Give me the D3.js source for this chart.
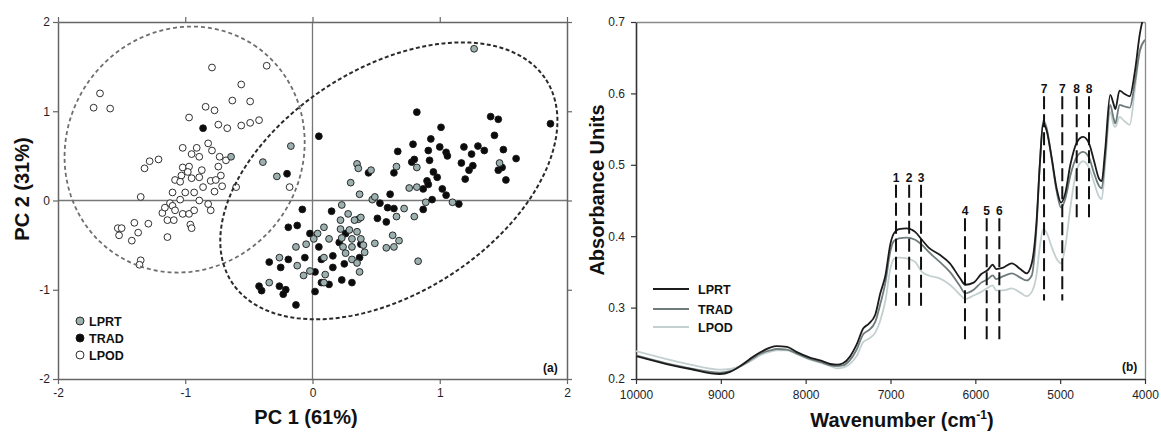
<!DOCTYPE html>
<html>
<head>
<meta charset="utf-8">
<script src="https://cdn.jsdelivr.net/npm/d3@7"></script>
<style>
body { margin: 0; background: #fff; }
svg { display: block; font-family: "Liberation Sans", Arial, sans-serif; }
</style>
</head>
<body>
<svg id="chart" width="1161" height="433"></svg>
<script>
// ---- panel (a): PCA scores, [PC1, PC2]
const lprtScores = [[1.27,1.70],[-0.64,0.49],[-0.17,0.61],[-0.39,0.43],[-0.28,0.27],[0.35,0.41],[0.36,0.36],[0.46,0.34],[0.30,0.20],[0.37,0.07],[0.47,0.01],[0.49,0.04],[0.66,0.38],[0.82,0.37],[0.76,0.14],[0.82,0.15],[0.72,-0.09],[0.80,-0.18],[0.66,-0.18],[0.89,-0.02],[0.23,-0.05],[0.28,-0.15],[0.36,-0.21],[0.38,-0.19],[0.22,-0.22],[0.09,-0.30],[0.04,-0.37],[0.22,-0.32],[0.29,-0.33],[0.35,-0.35],[0.13,-0.43],[0.01,-0.43],[-0.05,-0.49],[-0.13,-0.52],[0.23,-0.42],[0.31,-0.43],[0.38,-0.43],[0.24,-0.52],[0.31,-0.52],[0.41,-0.58],[0.49,-0.48],[0.63,-0.39],[0.68,-0.45],[0.58,-0.53],[0.64,-0.52],[0.09,-0.64],[0.31,-0.66],[0.37,-0.80],[-0.02,-0.79],[-0.07,-0.84],[-0.12,-0.73],[-0.26,-0.64],[0.10,-0.83],[-0.34,-0.92],[0.83,-0.68],[0.26,-0.59],[0.09,-0.92],[1.47,0.42],[1.10,-0.02],[0.40,-0.50],[0.33,-0.22],[0.35,-0.70]];
const tradScores = [[-0.86,0.81],[-0.20,0.30],[-0.08,-0.10],[0.05,0.72],[0.15,-0.12],[-0.19,-0.30],[-0.12,-0.28],[-0.02,-0.37],[-0.34,-0.69],[-0.25,-0.75],[-0.19,-0.66],[-0.06,-0.64],[-0.42,-0.96],[-0.40,-1.01],[-0.26,-0.96],[-0.21,-1.00],[-0.23,-1.05],[-0.13,-1.17],[0.02,-1.02],[0.02,-0.80],[0.07,-0.92],[0.13,-0.94],[0.23,-0.89],[0.31,-0.92],[0.16,-0.75],[0.16,-0.62],[0.25,-0.71],[0.05,-0.52],[0.21,-0.47],[0.26,-0.37],[0.38,-0.49],[0.37,-0.64],[0.07,-0.66],[0.51,-0.20],[0.58,-0.24],[0.59,-0.08],[0.64,-0.09],[0.53,-0.03],[0.61,0.07],[0.44,0.31],[0.64,0.31],[0.67,0.55],[0.79,0.63],[0.93,0.69],[1.01,0.82],[0.78,0.43],[0.91,0.56],[0.92,0.45],[0.95,0.32],[0.90,0.22],[0.87,0.13],[1.02,0.13],[0.94,0.01],[0.87,-0.10],[0.98,0.26],[0.82,0.99],[1.40,0.94],[1.46,0.91],[1.87,0.86],[1.43,0.73],[1.00,0.60],[1.05,0.54],[1.06,0.50],[1.19,0.60],[1.30,0.61],[1.35,0.56],[1.25,0.52],[1.50,0.57],[1.17,0.42],[1.26,0.39],[1.23,0.34],[1.60,0.47],[1.46,0.34],[1.49,0.37],[1.52,0.23],[1.20,0.24],[0.91,0.18],[1.05,0.06],[1.15,-0.04],[0.80,0.46]];
const lpodScores = [[-0.79,1.49],[-0.36,1.51],[-0.56,1.30],[-1.67,1.20],[-1.72,1.04],[-1.59,1.03],[-0.63,1.12],[-0.49,1.11],[-0.84,1.05],[-0.77,1.01],[-0.97,0.93],[-0.74,0.85],[-0.67,0.81],[-0.56,0.84],[-0.49,0.87],[-0.42,0.90],[-0.82,0.64],[-1.02,0.59],[-0.91,0.59],[-0.95,0.52],[-0.79,0.56],[-0.89,0.49],[-0.73,0.49],[-0.68,0.45],[-1.21,0.46],[-1.28,0.44],[-1.32,0.36],[-1.02,0.37],[-0.97,0.38],[-0.98,0.32],[-0.87,0.34],[-0.74,0.38],[-1.03,0.28],[-1.08,0.23],[-1.04,0.21],[-0.95,0.25],[-0.89,0.26],[-0.80,0.22],[-0.72,0.28],[-0.76,0.23],[-0.86,0.15],[-0.71,0.16],[-0.77,0.10],[-0.93,0.09],[-1.00,0.09],[-1.10,0.09],[-1.04,0.01],[-0.89,0.00],[-1.35,0.04],[-1.12,-0.03],[-1.10,-0.06],[-0.82,-0.04],[-0.80,-0.11],[-1.18,-0.14],[-1.08,-0.11],[-1.02,-0.15],[-0.97,-0.15],[-0.93,-0.11],[-1.14,-0.22],[-1.09,-0.22],[-1.40,-0.25],[-1.29,-0.26],[-1.53,-0.31],[-1.50,-0.31],[-1.52,-0.39],[-1.37,-0.36],[-1.42,-0.45],[-0.96,-0.27],[-0.95,-0.31],[-1.14,-0.41],[-1.35,-0.67],[-1.36,-0.72],[-0.60,0.15],[-0.18,0.15],[-1.16,-0.08]];
const pcaTicks = [-2, -1, 0, 1, 2];
const groups = ["LPRT", "TRAD", "LPOD"];
// group ellipses: centre and two half-axis vectors (score units)
const ellipses = [
  { cx: -1.005, cy: 0.571, ux: 0.544, uy: 1.171, vx: 0.771, vy: -0.727, dark: false },
  { cx: 0.60, cy: 0.22, ux: 1.236, uy: 1.132, vx: 0.477, vy: -1.061, dark: true }
];

// ---- panel (b): mean spectra
const wavenumbers = [10000,9640,9360,9010,8890,8750,8620,8540,8420,8340,8220,8110,7950,7830,7710,7630,7560,7480,7400,7320,7260,7180,7120,7060,7000,6960,6900,6810,6710,6630,6550,6420,6300,6180,6120,6020,5930,5850,5795,5755,5670,5570,5470,5395,5335,5280,5240,5200,5160,5100,5040,4990,4940,4880,4800,4730,4660,4600,4540,4510,4470,4410,4370,4350,4300,4250,4180,4120,4060,4000];
const lprtSpec = [0.232,0.221,0.214,0.207,0.210,0.220,0.231,0.237,0.244,0.246,0.245,0.238,0.230,0.226,0.221,0.220,0.222,0.231,0.248,0.271,0.277,0.290,0.320,0.345,0.390,0.404,0.410,0.411,0.406,0.395,0.384,0.374,0.362,0.341,0.332,0.335,0.347,0.353,0.360,0.354,0.356,0.362,0.354,0.348,0.362,0.418,0.500,0.558,0.548,0.510,0.466,0.447,0.460,0.500,0.532,0.539,0.530,0.505,0.480,0.477,0.520,0.598,0.585,0.578,0.604,0.600,0.596,0.630,0.684,0.715];
const tradSpec = [0.233,0.222,0.215,0.209,0.211,0.219,0.229,0.235,0.240,0.242,0.241,0.236,0.228,0.224,0.219,0.218,0.219,0.226,0.241,0.263,0.268,0.280,0.305,0.335,0.380,0.393,0.397,0.398,0.395,0.388,0.378,0.364,0.350,0.330,0.320,0.325,0.335,0.340,0.345,0.340,0.344,0.348,0.342,0.338,0.345,0.410,0.500,0.562,0.552,0.508,0.462,0.440,0.452,0.485,0.512,0.518,0.510,0.488,0.470,0.467,0.510,0.584,0.565,0.558,0.584,0.582,0.580,0.615,0.660,0.675];
const lpodSpec = [0.239,0.228,0.220,0.213,0.214,0.219,0.227,0.233,0.238,0.240,0.240,0.235,0.227,0.223,0.218,0.215,0.216,0.221,0.232,0.252,0.256,0.265,0.282,0.310,0.355,0.368,0.370,0.369,0.364,0.350,0.345,0.341,0.332,0.318,0.312,0.317,0.322,0.328,0.331,0.324,0.324,0.327,0.321,0.316,0.322,0.345,0.385,0.410,0.405,0.385,0.368,0.362,0.385,0.440,0.495,0.505,0.496,0.475,0.455,0.452,0.500,0.574,0.556,0.553,0.567,0.562,0.556,0.605,0.660,0.675];
const wnTicks = [10000, 9000, 8000, 7000, 6000, 5000, 4000];
const absTicks = [0.2, 0.3, 0.4, 0.5, 0.6, 0.7];
// assigned bands: label, wavenumber, dashed marker from top to bottom (absorbance)
const bands = [
  { label: "1", wn: 6935, top: 0.472, bot: 0.30 },
  { label: "2", wn: 6780, top: 0.472, bot: 0.30 },
  { label: "3", wn: 6640, top: 0.472, bot: 0.30 },
  { label: "4", wn: 6122, top: 0.425, bot: 0.25 },
  { label: "5", wn: 5866, top: 0.425, bot: 0.25 },
  { label: "6", wn: 5717, top: 0.425, bot: 0.25 },
  { label: "7", wn: 5190, top: 0.596, bot: 0.31 },
  { label: "7", wn: 4975, top: 0.596, bot: 0.31 },
  { label: "8", wn: 4805, top: 0.596, bot: 0.425 },
  { label: "8", wn: 4660, top: 0.596, bot: 0.425 }
];

const svg = d3.select("#chart");
const FONT = "Liberation Sans, Arial, sans-serif";
const dotFill = { LPRT: "#9db0b0", TRAD: "#0b0b0b", LPOD: "#ffffff" };
const lineCol = { LPRT: "#1b1b1b", TRAD: "#6f7c7c", LPOD: "#c4d0d0" };

function styleAxis(g, stroke, sw) {
  g.attr("font-family", FONT).attr("font-size", 12);
  g.select(".domain").attr("stroke", stroke).attr("stroke-width", sw);
  g.selectAll(".tick line").attr("stroke", stroke).attr("stroke-width", 1.2);
  g.selectAll(".tick text").attr("fill", "#1e1e28");
}

// ================= (a)
const xa = d3.scaleLinear().domain([-2, 2]).range([58, 567]);
const ya = d3.scaleLinear().domain([-2, 2]).range([379, 22]);
const pa = svg.append("g");

pa.append("line").attr("x1", xa(0)).attr("x2", xa(0)).attr("y1", ya(-2)).attr("y2", ya(2))
  .attr("stroke", "#777").attr("stroke-width", 1.3);
pa.append("line").attr("x1", xa(-2)).attr("x2", xa(2)).attr("y1", ya(0)).attr("y2", ya(0))
  .attr("stroke", "#777").attr("stroke-width", 1.3);

const fmt = d => String(d);
pa.append("g").attr("transform", `translate(0,${ya(-2)})`)
  .call(d3.axisBottom(xa).tickValues(pcaTicks).tickFormat(fmt).tickSize(5).tickSizeOuter(0).tickPadding(4))
  .call(g => styleAxis(g, "#666", 1.5));
pa.append("g").attr("transform", `translate(0,${ya(2)})`)
  .call(d3.axisTop(xa).tickValues(pcaTicks).tickFormat("").tickSize(5).tickSizeOuter(0))
  .call(g => styleAxis(g, "#666", 1.5));
pa.append("g").attr("transform", `translate(${xa(-2)},0)`)
  .call(d3.axisLeft(ya).tickValues(pcaTicks).tickFormat(fmt).tickSize(5).tickSizeOuter(0).tickPadding(3))
  .call(g => styleAxis(g, "#666", 1.5));
pa.append("g").attr("transform", `translate(${xa(2)},0)`)
  .call(d3.axisRight(ya).tickValues(pcaTicks).tickFormat("").tickSize(5).tickSizeOuter(0))
  .call(g => styleAxis(g, "#666", 1.5));

const series = [
  { name: "LPOD", data: lpodScores },
  { name: "TRAD", data: tradScores },
  { name: "LPRT", data: lprtScores }
];
series.forEach(s => {
  pa.append("g").selectAll("circle").data(s.data).join("circle")
    .attr("cx", d => xa(d[0])).attr("cy", d => ya(d[1])).attr("r", 3.4)
    .attr("fill", dotFill[s.name]).attr("stroke", "#1a1a1a").attr("stroke-width", 0.9);
});

const ts = d3.range(0, 2 * Math.PI, Math.PI / 90);
ellipses.forEach(e => {
  const pts = ts.map(t => [e.cx + e.ux * Math.cos(t) + e.vx * Math.sin(t),
                           e.cy + e.uy * Math.cos(t) + e.vy * Math.sin(t)]);
  pa.append("path")
    .attr("d", d3.line().x(d => xa(d[0])).y(d => ya(d[1])).curve(d3.curveLinearClosed)(pts))
    .attr("fill", "none")
    .attr("stroke", e.dark ? "#2a2a2a" : "#6e6e6e")
    .attr("stroke-width", e.dark ? 2 : 1.8)
    .attr("stroke-dasharray", e.dark ? "4,2.5" : "4,3");
});

const legA = pa.append("g").attr("transform", "translate(80,321)");
groups.forEach((gname, i) => {
  legA.append("circle").attr("cx", 0).attr("cy", i * 17).attr("r", 4)
    .attr("fill", dotFill[gname]).attr("stroke", "#1a1a1a").attr("stroke-width", 0.9);
  legA.append("text").attr("x", 9).attr("y", i * 17).attr("dy", "0.36em")
    .attr("font-size", 12.5).attr("font-weight", "bold").attr("fill", "#111").text(gname);
});

pa.append("text").attr("x", 543).attr("y", 372).attr("font-size", 12).attr("font-weight", "bold")
  .attr("fill", "#111").text("(a)");
pa.append("text").attr("x", 306).attr("y", 424).attr("text-anchor", "middle")
  .attr("font-size", 20).attr("font-weight", "bold").attr("fill", "#111").text("PC 1 (61%)");
pa.append("text").attr("transform", "translate(29,189) rotate(-90)").attr("text-anchor", "middle")
  .attr("font-size", 20).attr("font-weight", "bold").attr("fill", "#111").text("PC 2 (31%)");

// ================= (b)
const xb = d3.scaleLinear().domain([10000, 4000]).range([636, 1145]);
const yb = d3.scaleLinear().domain([0.2, 0.7]).range([379, 22]);
const pb = svg.append("g");

pb.append("clipPath").attr("id", "clipb").append("rect")
  .attr("x", xb(10000)).attr("y", yb(0.7)).attr("width", xb(4000) - xb(10000)).attr("height", yb(0.2) - yb(0.7));

pb.append("g").attr("transform", `translate(0,${yb(0.7)})`)
  .call(d3.axisTop(xb).tickValues([]).tickSizeOuter(0))
  .call(g => styleAxis(g, "#8a8a8a", 1.3));
pb.append("g").attr("transform", `translate(${xb(4000)},0)`)
  .call(d3.axisRight(yb).tickValues([]).tickSizeOuter(0))
  .call(g => styleAxis(g, "#8a8a8a", 1.3));
pb.append("g").attr("transform", `translate(0,${yb(0.2)})`)
  .call(d3.axisBottom(xb).tickValues(wnTicks).tickFormat(fmt).tickSize(5).tickSizeOuter(0).tickPadding(6))
  .call(g => styleAxis(g, "#333", 1.6));
pb.append("g").attr("transform", `translate(${xb(10000)},0)`)
  .call(d3.axisLeft(yb).tickValues(absTicks).tickFormat(d3.format(".1f")).tickSize(5).tickSizeOuter(0).tickPadding(6))
  .call(g => styleAxis(g, "#333", 1.6));

const spectra = [
  { name: "LPOD", vals: lpodSpec },
  { name: "TRAD", vals: tradSpec },
  { name: "LPRT", vals: lprtSpec }
];
const specLine = d3.line().x((d, i) => xb(wavenumbers[i])).y(d => yb(d)).curve(d3.curveMonotoneX);
spectra.forEach(s => {
  pb.append("path").attr("clip-path", "url(#clipb)")
    .attr("d", specLine(s.vals)).attr("fill", "none")
    .attr("stroke", lineCol[s.name]).attr("stroke-width", 1.8);
});

const bandG = pb.append("g").selectAll("g").data(bands).join("g");
bandG.append("line")
  .attr("x1", d => xb(d.wn)).attr("x2", d => xb(d.wn))
  .attr("y1", d => yb(d.top)).attr("y2", d => yb(d.bot))
  .attr("stroke", "#111").attr("stroke-width", 2).attr("stroke-dasharray", "13,5");
bandG.append("text")
  .attr("x", d => xb(d.wn)).attr("y", d => yb(d.top) - 3).attr("text-anchor", "middle")
  .attr("font-size", 12).attr("font-weight", "bold").attr("fill", "#111").text(d => d.label);

const legB = pb.append("g").attr("transform", "translate(653,289)");
groups.forEach((gname, i) => {
  const yy = i === 0 ? 0 : i === 1 ? 20 : 38;
  legB.append("line").attr("x1", 0).attr("x2", 36).attr("y1", yy).attr("y2", yy)
    .attr("stroke", lineCol[gname]).attr("stroke-width", 2);
  legB.append("text").attr("x", 45).attr("y", yy).attr("dy", "0.36em")
    .attr("font-size", 12.5).attr("font-weight", "bold").attr("fill", "#111").text(gname);
});

pb.append("text").attr("x", 1122).attr("y", 371).attr("font-size", 12).attr("font-weight", "bold")
  .attr("fill", "#111").text("(b)");
const wt = pb.append("text").attr("x", 902).attr("y", 427).attr("text-anchor", "middle")
  .attr("font-size", 20).attr("font-weight", "bold").attr("fill", "#111");
wt.append("tspan").text("Wavenumber (cm");
wt.append("tspan").attr("font-size", 12).attr("dy", -8).text("-1");
wt.append("tspan").attr("dy", 8).text(")");
pb.append("text").attr("transform", "translate(604,190) rotate(-90)").attr("text-anchor", "middle")
  .attr("font-size", 20).attr("font-weight", "bold").attr("fill", "#111").text("Absorbance Units");
</script>
</body>
</html>
